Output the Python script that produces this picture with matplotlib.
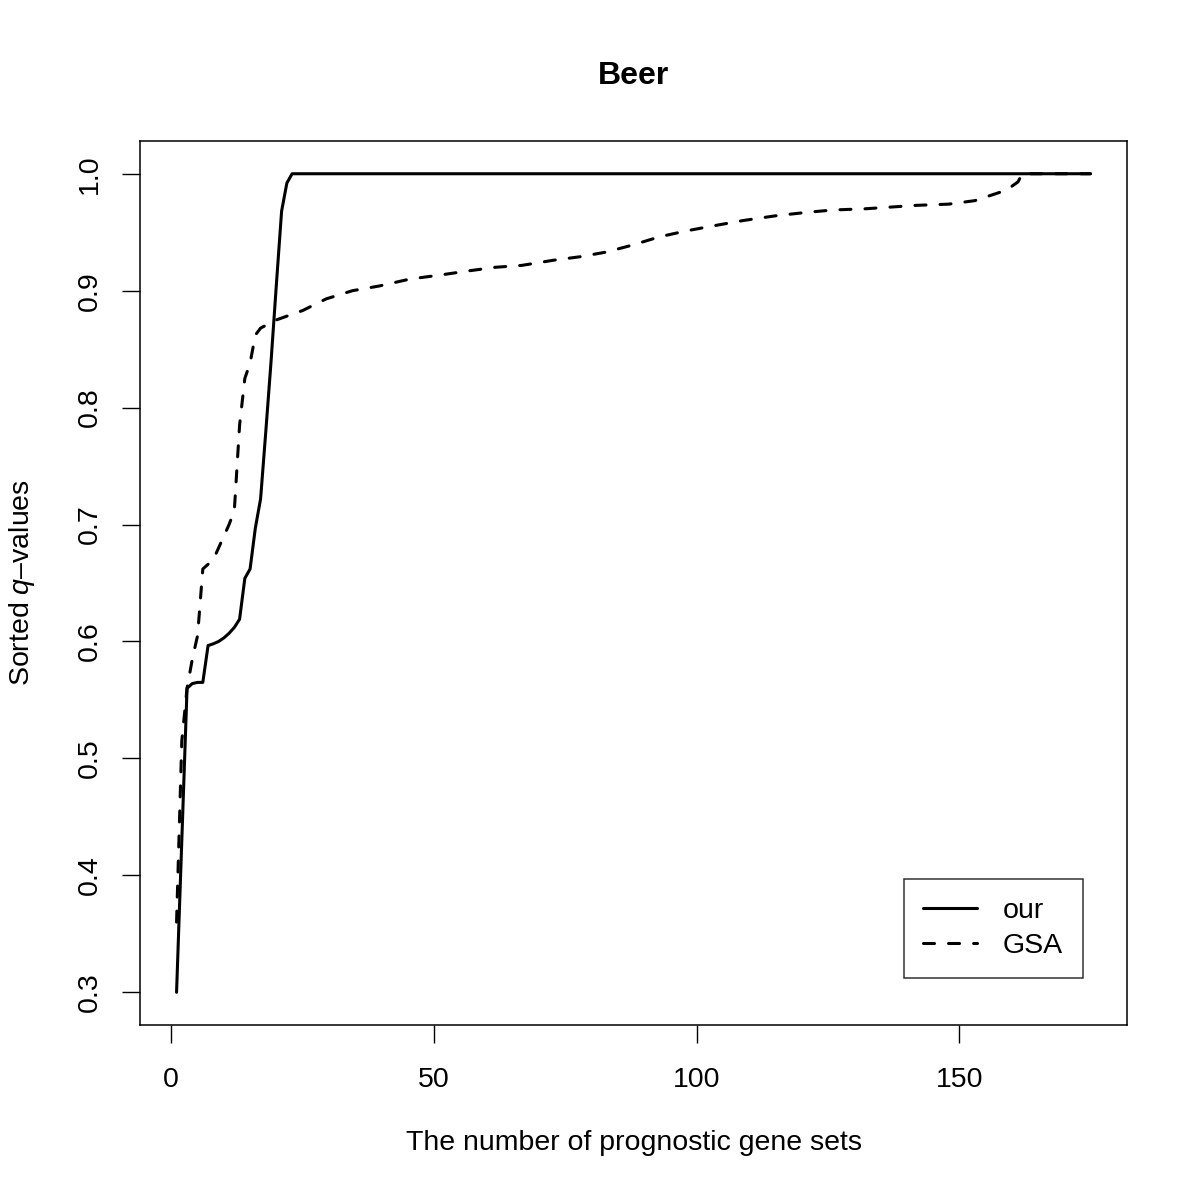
import matplotlib
matplotlib.use("Agg")
import matplotlib.pyplot as plt

plt.rcParams['font.family'] = ['Liberation Sans', 'DejaVu Sans']
plt.rcParams['mathtext.fontset'] = 'custom'
plt.rcParams['mathtext.rm'] = 'Liberation Sans'
plt.rcParams['mathtext.it'] = 'Liberation Sans:italic'

title = "Beer"
xlabel = "The number of prognostic gene sets"
ylabel = "Sorted $q$\u2013values"

# "our" method: sorted q-values
our_x = [1, 2, 3, 4, 5, 6, 7, 8, 9, 10, 11, 12, 13, 14, 15, 16, 17, 18, 19, 20,
         21, 22, 23, 175]
our_y = [0.300, 0.430, 0.560, 0.564, 0.565, 0.565, 0.5965, 0.598, 0.600, 0.603,
         0.607, 0.612, 0.619, 0.654, 0.662, 0.697, 0.722, 0.780, 0.840, 0.905,
         0.968, 0.992, 1.000, 1.000]

# GSA: sorted q-values
gsa_x = [1, 2, 3, 4, 5, 6, 8, 10, 11, 12, 13, 14, 15, 16, 17, 20, 25, 29.5,
         34.5, 39.6, 45.5, 50.6, 56.7, 61.7, 66.7, 72.7, 77.8, 82.8, 87.8, 92.9,
         97.9, 103.9, 108.9, 115, 121, 126, 132, 137, 142, 148, 153, 157, 159,
         161.2, 162, 175]
gsa_y = [0.360, 0.515, 0.560, 0.585, 0.605, 0.662, 0.670, 0.690, 0.700, 0.712,
         0.785, 0.825, 0.838, 0.862, 0.868, 0.875, 0.883, 0.893, 0.900, 0.904,
         0.910, 0.913, 0.917, 0.920, 0.9216, 0.926, 0.929, 0.933, 0.939, 0.946,
         0.951, 0.956, 0.960, 0.964, 0.967, 0.969, 0.970, 0.9715, 0.973, 0.974,
         0.977, 0.983, 0.986, 0.993, 1.000, 1.000]

series_labels = ["our", "GSA"]
xticks = [0, 50, 100, 150]
yticks = [0.3, 0.4, 0.5, 0.6, 0.7, 0.8, 0.9, 1.0]

fs = 20.5
fig = plt.figure(figsize=(12, 12), dpi=100)
ax = fig.add_axes([140/1200, 1 - 1025/1200, 987/1200, 884/1200])

ax.plot(our_x, our_y, color='black', lw=2.2, solid_capstyle='round',
        solid_joinstyle='round', label=series_labels[0])
ax.plot(gsa_x, gsa_y, color='black', lw=2.2, linestyle=(0, (3.6, 4.6)),
        dash_capstyle='round', dash_joinstyle='round', label=series_labels[1])

xr = max(our_x) - min(our_x)
ax.set_xlim(min(our_x) - 0.04 * xr, max(our_x) + 0.04 * xr)
yr = 1.0 - 0.3
ax.set_ylim(0.3 - 0.04 * yr, 1.0 + 0.04 * yr)

ax.set_xticks(xticks)
ax.set_xticklabels([str(t) for t in xticks])
ax.set_yticks(yticks)
ax.set_yticklabels([f"{t:.1f}" for t in yticks])
ax.tick_params(direction='out', length=12.7, width=1.0, labelsize=fs,
               color='black', labelcolor='black')
ax.tick_params(axis='x', pad=17.5)
ax.tick_params(axis='y', pad=14, labelrotation=90)
for lab in ax.get_yticklabels():
    lab.set_va('center')
for sp in ax.spines.values():
    sp.set_linewidth(1.1)

fig.text(633.5/1200, 1 - 76/1200, title, ha='center', va='center',
         fontsize=23, fontweight='bold')
ax.set_xlabel(xlabel, fontsize=fs, va='center')
ax.xaxis.set_label_coords(0.5, (1025 - 1143) / 884)
ax.set_ylabel(ylabel, fontsize=fs, va='center')
ax.yaxis.set_label_coords((22 - 140) / 987, 0.5)

leg = ax.legend(loc='lower right', bbox_to_anchor=(0.955, 0.053),
                bbox_transform=ax.transAxes, borderaxespad=0,
                fontsize=fs, frameon=True, fancybox=False,
                handlelength=1.9, handletextpad=0.9, borderpad=0.68,
                labelspacing=0.3)
leg.get_frame().set_edgecolor('black')
leg.get_frame().set_linewidth(1.1)

fig.savefig("out.png", dpi=100)
